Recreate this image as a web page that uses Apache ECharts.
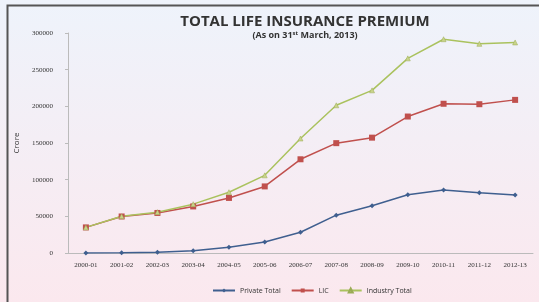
<!DOCTYPE html>
<html>
<head>
    <meta http-equiv="Content-Type" content="text/html; charset=utf-8"/>
    <script src="https://cdn.jsdelivr.net/npm/echarts@6/dist/echarts.min.js"></script>
    <style>
        html, body { margin: 0; padding: 0; }
        #chart { width: 539px; height: 302px; }
    </style>
</head>
<body>
<div id="chart"></div>
<script type="text/javascript">
    // 年度
    var years = ['2000-01', '2001-02', '2002-03', '2003-04', '2004-05', '2005-06', '2006-07',
        '2007-08', '2008-09', '2009-10', '2010-11', '2011-12', '2012-13'];
    // 各系列数据 (Crore)
    var privateTotal = [10, 300, 1100, 3100, 7700, 15100, 28300, 51600, 64500, 79400, 86000, 82300, 79100];
    var lic = [34900, 49800, 54600, 63500, 75100, 90800, 127800, 149800, 157300, 186100, 203500, 202900, 208800];
    var industryTotal = [34900, 50100, 55700, 66600, 82900, 105900, 156100, 201400, 221800, 265400, 291500, 285200, 287100];
    var yTicks = [0, 300000, 50000];

    var chart = echarts.init(document.getElementById('chart'));
    var option = {
        backgroundColor: {
            type: 'linear', x: 0, y: 0, x2: 0, y2: 1,
            colorStops: [
                {offset: 0, color: '#eef3fb'},
                {offset: 1, color: '#fbe8ee'}
            ]
        },
        color: ['#3f5f8f', '#c0504d', '#b5c96a'],
        title: {
            text: 'TOTAL LIFE INSURANCE PREMIUM',
            subtext: '{s|(As on 31}{sup|st}{s| March, 2013)}',
            left: 300,
            textAlign: 'center',
            top: 9,
            itemGap: 1,
            textStyle: {fontFamily: 'Open Sans', fontWeight: 'bold', fontSize: 15, color: '#333'},
            subtextStyle: {
                rich: {
                    s: {fontFamily: 'Open Sans', fontWeight: 'bold', fontSize: 9, color: '#333'},
                    sup: {fontFamily: 'Open Sans', fontWeight: 'bold', fontSize: 6, color: '#333', verticalAlign: 'top', padding: [0, 0, 4, 0]}
                }
            }
        },
        // 边框 (左、上)
        graphic: [{
            type: 'polyline',
            shape: {points: [[7.5, 302], [7.5, 5.5], [539, 5.5]]},
            style: {fill: 'none', stroke: '#555', lineWidth: 2},
            silent: true
        }],
        grid: {left: 68, right: 6, top: 33, bottom: 49},
        legend: {
            bottom: 3,
            left: 207,
            itemWidth: 22,
            itemHeight: 5,
            itemGap: 10,
            textStyle: {fontFamily: 'Open Sans', fontSize: 7, color: '#333'},
            data: ['Private Total', 'LIC', 'Industry Total']
        },
        xAxis: {
            type: 'category',
            data: years,
            axisLine: {lineStyle: {color: '#bbb'}},
            axisTick: {show: false},
            axisLabel: {fontFamily: 'Liberation Serif', fontSize: 7, color: '#333', interval: 0, margin: 9}
        },
        yAxis: {
            type: 'value',
            min: yTicks[0],
            max: yTicks[1],
            interval: yTicks[2],
            name: 'Crore',
            nameLocation: 'middle',
            nameGap: 44,
            nameTextStyle: {fontFamily: 'Open Sans', fontSize: 8, color: '#333'},
            axisLine: {show: true, lineStyle: {color: '#bbb'}},
            axisTick: {show: true, length: 3, lineStyle: {color: '#bbb'}},
            splitLine: {show: false},
            axisLabel: {
                fontFamily: 'Liberation Serif', fontSize: 7, color: '#333', margin: 15,
                formatter: function (v) { return String(v); }
            }
        },
        series: [{
            name: 'Private Total',
            type: 'line',
            data: privateTotal,
            symbol: 'diamond',
            symbolSize: 5,
            lineStyle: {width: 1.5}
        }, {
            name: 'LIC',
            type: 'line',
            data: lic,
            symbol: 'rect',
            symbolSize: 6,
            lineStyle: {width: 1.5}
        }, {
            name: 'Industry Total',
            type: 'line',
            data: industryTotal,
            symbol: 'triangle',
            symbolSize: 5,
            itemStyle: {color: '#c9d48a', borderColor: '#9aab55', borderWidth: 0.5},
            lineStyle: {width: 1.5, color: '#aac25e'}
        }]
    };
    chart.setOption(option);
</script>
</body>
</html>
